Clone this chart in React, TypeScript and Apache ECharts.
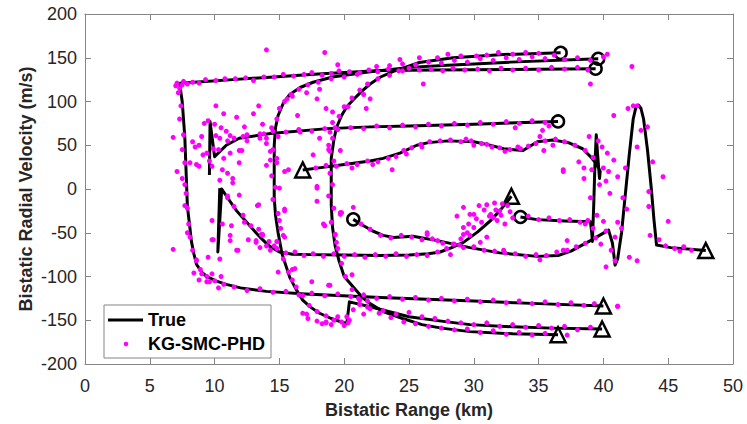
import React, { useEffect, useRef } from "react";
import * as echarts from "echarts";

// Axis ticks
const xTicks = { min: 0, max: 50, interval: 5 };
const yTicks = { min: -200, max: 200, interval: 50 };

// True target trajectories: [bistatic range km, bistatic radial velocity m/s]
const track1: number[][] = [
  [39.4, 137.5], [32.8, 136.5], [27, 136], [22.8, 135.3], [18, 131.5], [14, 127.5], [11.4, 125], [9, 122.5], [7.3, 121],
  [7.5, 100], [7.7, 60], [7.8, 20], [7.9, -20], [8.1, -45], [8.2, -59], [8.4, -74], [8.6, -86], [9.0, -95], [9.4, -100],
  [10.1, -105], [10.9, -109], [12.0, -113], [14.0, -117], [17, -120], [22.8, -124], [30, -128], [35, -131], [40.0, -133.7],
];
const trackOuter: number[][] = [
  [39.6, 148.8], [32.8, 145], [28, 141.5], [25, 139], [21.7, 133.5], [19.1, 128], [17.6, 122], [16.6, 116], [15.8, 108],
  [15.3, 98], [14.9, 84], [14.7, 70], [14.6, 50], [14.6, 20], [14.6, -10], [14.7, -30], [14.9, -50], [15.2, -74],
  [15.8, -101], [16.3, -115], [16.8, -127], [17.4, -135], [18.1, -142], [19.0, -148], [20.2, -154], [20.4, -129],
  [22, -134.5], [25, -146], [27.5, -151], [29.7, -155], [33, -157.5], [36, -159], [39.9, -160],
];
const trackInner: number[][] = [
  [36.7, 155.6], [32.3, 153.7], [28.4, 150], [25.8, 144.6], [23.8, 134.5], [22.8, 128], [22, 120], [21.3, 111],
  [20.7, 102], [20.2, 94], [19.8, 84], [19.4, 70], [19.2, 56], [19.0, 35], [19.0, 12], [19.0, -18], [19.1, -44],
  [19.3, -65], [19.6, -82], [20.0, -100], [20.7, -112], [21.4, -124], [22.0, -131], [23, -140], [24.5, -148],
  [26, -155], [27.5, -159], [29.7, -163], [33, -165.5], [36.5, -166.5],
];
const trackC: number[][] = [
  [36.5, 77.2], [30, 74], [25, 72], [22, 71], [18.7, 69], [14.3, 63.5], [11.9, 58], [10.9, 50], [10.0, 37],
  [9.65, 77], [9.6, 16],
];
const trackD: number[][] = [
  [10.4, 1], [10.25, -72], [10.55, 0], [11.0, -10], [11.7, -25], [12.6, -40], [13.5, -55], [14.2, -65], [15.0, -72],
  [16, -74.5], [17.4, -75], [20, -75.5], [22.8, -76], [25, -75.5], [26.5, -74], [27.4, -72], [28.3, -67], [29.2, -61],
  [30.3, -49], [31.3, -36], [32.0, -25], [32.6, -14], [32.9, -8.3],
];
const trackE: number[][] = [
  [20.7, -34.7], [21.5, -42], [22.2, -48], [23.0, -53], [23.8, -55.5], [25.3, -54], [27.2, -59], [29.7, -67],
  [32, -73], [34.9, -77], [36.5, -76], [37.5, -71], [39, -59], [40.4, -47], [40.7, -62], [40.9, -87], [41.1, -80],
  [41.4, -50], [41.7, -5], [42.0, 40], [42.3, 80], [42.5, 93], [42.7, 96], [42.9, 92], [43.1, 80], [43.4, 45],
  [43.7, 0], [43.9, -35], [44.1, -64], [45.2, -67], [47.9, -70.4],
];
const trackF: number[][] = [
  [33.6, -32], [34.9, -35], [37, -36.5], [39.0, -37.5], [39.1, -50], [39.15, -60], [39.25, -20], [39.35, 30],
  [39.45, 62], [39.55, 40], [39.7, 12], [39.75, 20], [39.5, 28], [39.0, 37], [38.4, 46], [37.3, 53], [36.1, 56],
  [34.9, 54], [33.8, 44], [32.3, 46], [31, 51], [30, 54], [28, 55], [26.5, 53], [25.6, 50], [24.3, 41], [23, 35],
  [22, 32], [20, 28], [18.5, 25], [16.8, 21.8],
];

// Track start and end markers
const startPoints: number[][] = [
  [36.7, 155.6], [39.6, 148.8], [39.4, 137.5], [36.5, 77.2], [20.7, -34.7], [33.6, -32],
];
const endPoints: number[][] = [
  [16.8, 21.8], [32.9, -8.3], [47.9, -70.4], [40.0, -133.7], [39.9, -160], [36.5, -166.5],
];

// KG-SMC-PHD state estimates
const estTop: number[][] = [
  [7.0, 118], [7.1, 121], [7.3, 115], [7.5, 119], [7.6, 123], [7.9, 120], [8.3, 122], [8.8, 121], [9.3, 125],
  [10.1, 124], [10.8, 126], [11.6, 126], [12.4, 127], [13.0, 124], [13.8, 128], [14.6, 128], [15.3, 131], [16.1, 129],
  [16.9, 131], [17.5, 133], [18.3, 130], [19.0, 132], [19.6, 135], [20.4, 134], [21.2, 133], [21.9, 136], [22.6, 134],
  [23.4, 137], [24.2, 135], [25.0, 138], [25.8, 136], [26.7, 137], [27.6, 135], [28.4, 138], [29.3, 136], [30.3, 137],
  [31.2, 135], [32.1, 138], [33.0, 136], [34.0, 138], [35.0, 136], [36.0, 139], [37.0, 137], [38.0, 139], [38.8, 136],
];
const estUpper: number[][] = [
  [22.5, 140], [23.5, 141], [24.5, 143], [25.5, 142], [26.5, 145], [27.5, 144], [28.5, 147], [29.5, 145], [30.5, 149],
  [31.5, 147], [32.5, 150], [33.5, 148], [34.5, 151], [35.5, 149], [36.2, 153], [37.0, 148], [38.0, 150], [39.0, 147],
  [40.0, 151], [27.2, 150], [29.0, 152], [31.0, 153], [33.0, 154], [35.0, 155], [24.3, 148], [25.8, 150],
];
const estCurves: number[][] = [
  [21.0, 131], [20.0, 128], [19.0, 126], [18.0, 122], [17.2, 119], [16.5, 114], [15.9, 108], [15.4, 100], [15.0, 92],
  [14.8, 80], [14.4, 70], [14.9, 60], [14.5, 45], [14.8, 30], [14.4, 15], [14.7, 2], [14.5, -12], [14.9, -28],
  [15.1, -45], [14.8, -60], [15.3, -80], [15.7, -95], [16.3, -112], [16.8, -122], [17.3, -133], [17.9, -140],
  [18.6, -145], [19.2, -150], [19.8, -152], [20.4, -150],
  [24.5, 135], [23.5, 130], [22.6, 126], [21.8, 120], [21.2, 113], [20.6, 104], [20.0, 94], [19.6, 83], [19.3, 70],
  [19.1, 58], [18.8, 45], [19.2, 32], [18.9, 18], [19.1, 5], [18.8, -8], [19.2, -22], [19.0, -38], [19.3, -52],
  [19.5, -68], [19.8, -85], [20.1, -100], [20.6, -115], [21.1, -125], [21.8, -135], [22.7, -142], [23.6, -147], [24.6, -152],
];
const estLower: number[][] = [
  [11.5, -112], [12.5, -116], [13.5, -114], [14.5, -118], [15.5, -117], [16.5, -121], [17.5, -119], [18.5, -122],
  [19.5, -120], [20.5, -123], [21.5, -121], [22.5, -125], [23.5, -123], [24.5, -126], [25.5, -124], [26.5, -127],
  [27.5, -125], [28.5, -128], [29.5, -126], [30.5, -129], [31.5, -127], [32.5, -130], [33.5, -128], [34.5, -131],
  [35.5, -129], [36.5, -132], [37.5, -130], [38.5, -133], [39.3, -131], [41.1, -134],
  [21.2, -132], [22.0, -137], [23.0, -139], [24.0, -143], [25.0, -141], [26.0, -146], [27.0, -148], [28.0, -151],
  [29.0, -153], [30.0, -155], [31.0, -153], [32.0, -157], [33.0, -155], [34.0, -158], [35.0, -156], [36.0, -159],
  [37.0, -157], [38.0, -161], [39.0, -158],
  [25.5, -154], [26.5, -157], [27.5, -159], [28.5, -161], [29.5, -160], [30.5, -164], [31.5, -162], [32.5, -166],
  [33.5, -164], [34.5, -167], [35.5, -165], [37.2, -167], [20.0, -156], [19.0, -155], [21.5, -143], [21.8, -128],
];
const estLeft: number[][] = [
  [7.2, 110], [7.4, 95], [7.3, 80], [7.6, 62], [7.5, 45], [7.7, 30], [7.5, 12], [7.8, -5], [7.9, -22], [8.0, -40],
  [8.1, -55], [8.3, -70], [8.6, -82], [8.9, -92], [9.4, -100], [10.0, -105], [10.7, -109], [8.4, -96], [9.6, -106],
  [10.3, -113],
];
const estMid: number[][] = [
  [12.5, 62], [13.5, 63], [14.5, 66], [15.5, 65], [16.5, 68], [17.5, 66], [18.5, 69], [19.5, 68], [20.5, 70],
  [21.5, 69], [22.5, 72], [23.5, 70], [24.5, 73], [25.5, 71], [26.5, 74], [27.5, 72], [28.5, 75], [29.5, 73],
  [30.5, 76], [31.5, 74], [32.5, 77], [33.5, 75], [34.5, 78], [35.5, 76], [11.0, 55], [10.3, 45], [33.2, 70], [35.8, 72],
  [9.2, 75], [9.5, 78], [10.0, 74], [10.5, 70], [10.9, 66], [11.5, 58], [12.2, 60], [9.0, 60], [8.5, 48], [9.8, 26],
  [10.6, 22], [11.0, 18], [11.9, 30], [12.5, 55], [12.1, 44],
];
const estWave: number[][] = [
  [17.8, 24], [18.6, 27], [19.4, 26], [20.2, 29], [21.0, 28], [21.8, 32], [22.6, 31], [23.4, 35], [24.0, 37],
  [24.6, 44], [25.2, 47], [25.9, 51], [26.6, 54], [27.4, 55], [28.2, 56], [29.0, 54], [29.8, 55], [30.6, 52],
  [31.4, 48], [32.0, 47], [32.8, 45], [33.6, 46], [34.2, 49], [34.8, 52], [35.5, 55], [36.3, 57], [37.0, 54],
  [37.8, 50], [38.6, 44], [39.2, 36], [30.0, 50], [31.0, 51], [32.4, 43], [33.4, 48], [29.4, 57], [26.0, 48],
  [24.8, 40], [20.6, 24], [22.2, 28],
  [34.2, -31], [35.0, -35], [35.8, -33], [36.6, -36], [37.4, -35], [38.2, -38], [38.8, -36], [39.5, -30], [39.2, -45],
];
const estLow: number[][] = [
  [12.2, -30], [12.8, -42], [13.6, -52], [14.2, -60], [14.8, -68], [15.5, -73], [16.2, -72], [16.9, -76], [17.6, -74],
  [18.4, -77], [19.2, -74], [20.0, -77], [20.8, -75], [21.6, -78], [22.4, -75], [23.2, -77], [24.0, -74], [24.8, -77],
  [25.6, -75], [26.4, -76], [27.2, -72], [27.9, -68], [28.5, -63], [29.0, -57], [29.5, -50], [30.0, -44], [30.6, -38],
  [31.2, -31], [31.7, -24], [32.2, -17], [11.0, -10], [11.5, -20],
  [21.3, -40], [22.0, -46], [22.8, -53], [23.6, -56], [24.4, -53], [25.2, -55], [26.0, -58], [26.8, -57], [27.6, -62],
  [28.4, -63], [29.2, -67], [30.0, -66], [30.8, -70], [31.6, -71], [32.4, -73], [33.2, -74], [34.0, -77], [34.8, -75],
  [35.6, -76], [36.4, -72], [37.2, -70], [37.9, -66], [38.6, -62], [39.4, -56], [40.2, -48], [44.8, -65], [45.5, -68],
  [46.2, -66], [46.8, -70], [45.9, -71],
];
const estRight: number[][] = [
  [39.6, 55], [38.9, 60], [39.9, 48], [40.3, 41], [40.8, 33], [40.0, 24], [40.4, 20], [40.2, 9], [41.1, 14], [38.5, 12],
  [38.1, 31], [38.5, 24], [39.1, 22], [39.7, 5], [40.5, -5], [39.0, -10], [38.6, -40], [40.6, -70], [40.9, -82],
  [42.0, -78], [41.4, -45], [39.8, -63],
  [41.9, 92], [42.3, 95], [42.6, 95], [42.9, 67], [43.4, 71], [42.6, 48], [43.8, 31], [44.6, 14], [41.7, 24],
  [41.5, -10], [43.5, -3], [43.5, -20], [41.8, -23], [42.2, 140], [40.8, 84], [42.6, -82], [45, -37], [43.6, -53], [44.3, -58],
];
const estClutter: number[][] = [
  [14.0, 159], [18.5, 156], [19.5, 142], [6.8, 59], [7.1, 20], [7.7, 5], [7.7, -19], [10.1, 95], [10.7, 86], [11.7, 82],
  [13.4, 95], [13.0, 86], [12.3, 71], [13.7, 74], [11.2, 61], [8.3, 54], [8.8, 50], [9.1, 39], [8.6, 28], [8.1, 30],
  [8.8, 26], [9.6, 32], [9.4, 41], [9.9, 46], [10.1, 61], [10.4, 58], [10.7, 35], [11.2, 41], [11.9, 44], [10.4, 10],
  [11.4, 12], [11.4, 7], [11.9, -7], [13.4, -18], [14.0, 27], [14.3, 33], [14.8, 35], [15.4, 20], [15.7, 22], [14.3, 43],
  [14.0, 52], [14.0, 58], [13.5, 58], [13.8, 63], [15.0, 1], [15.4, -23], [15.6, 103], [16.0, 106], [16.4, 84],
  [16.6, 65], [17.1, 110], [18.1, 114], [17.9, 103], [18.6, 92], [19.1, 88], [19.1, 76], [18.9, 65], [18.1, 58],
  [17.6, 39], [18.8, 50], [18.9, 43], [19.7, 44], [17.9, 3], [17.9, -14], [20.7, -21], [19.7, -27], [20.3, 94],
  [21.5, 108], [22.0, 103], [21.7, 92],
  [26.1, 120], [28.0, 154], [31.9, 156], [30.2, 152], [34.0, 156], [40.3, 154], [39.0, 120], [35.3, 67], [35.1, 60],
  [36.9, 20], [36.1, 50], [35.4, 44], [23.7, 22],
  [41.1, -134], [40.2, -89], [40.9, -55], [37.2, -59], [40, -37], [41.1, -38], [31, -55], [30, -29], [29.6, -40],
  [29.2, -52], [26.4, -52], [27.2, -59], [28.2, -75], [30.5, -61], [32.3, -70],
  [29.2, -21], [29.7, -29], [30.4, -19], [31, -18], [31.3, -29], [31.8, -36], [32, -25], [32.4, -40], [32.6, -19],
  [33, -33], [31.6, -16], [29.2, -44], [29.7, -53], [28.9, -64], [35.1, -81], [36.9, -70], [26.4, -50], [36.9, 22],
  [30.8, -24], [31.5, -33], [32.1, -30], [30.2, -34], [28.7, -31], [32.8, -26],
  [6.8, -69], [8.6, -81], [9.5, -78], [9.0, -97], [9.8, -97], [10.5, -100], [9.8, -36], [9.9, -58], [10.6, -40],
  [11.0, -8], [11.3, -42], [11.2, -53], [11.8, -70], [12.6, -58], [13.3, -19], [13.2, -61], [13.5, -67], [13.7, -53],
  [14.3, -70], [14.6, -65], [14.9, -95], [15.4, -25], [15.3, -53], [16.0, -92], [16.0, -104], [17.5, -106],
  [18.9, -110], [17.9, 1], [18.5, -42], [19.4, -61], [19.7, -29], [20.6, -98], [21.2, -127], [16.8, -142],
  [17.2, -148], [18.3, -154], [18.6, -152], [20.2, -146], [20.7, -138],
  [7.9, -50], [8.8, -104], [9.4, -106], [9.8, -58], [10.4, -80], [11.2, -59], [11.7, -70], [12.3, -38], [13.4, -46],
  [13.2, -59], [13.7, -52], [14, -65], [16.2, -91], [17.1, -143], [17.9, -151], [18.6, -153], [18.8, -110],
  [19.5, -146], [20.3, -153], [19.8, -27], [18.4, -40], [19.3, -52], [15, -36], [15.4, -55],
];

const TEXT = "#262626";
const AXIS = "#858585";
const FONT = "'Liberation Sans', Arial, Helvetica, sans-serif";

const trueTracks = [track1, trackOuter, trackInner, trackC, trackD, trackE, trackF];
const estimates = [
  ...estTop, ...estUpper, ...estCurves, ...estLower, ...estLeft, ...estMid, ...estWave, ...estLow, ...estRight, ...estClutter,
];

export default function App() {
  const ref = useRef<HTMLDivElement>(null);

  useEffect(() => {
    if (!ref.current) return;
    const chart = echarts.init(ref.current, undefined, { renderer: "svg" });

    const baseX = {
      type: "value" as const,
      min: xTicks.min,
      max: xTicks.max,
      interval: xTicks.interval,
      axisLine: { show: true, onZero: false, lineStyle: { color: AXIS, width: 1 } },
      axisTick: { show: true, inside: true, length: 6, lineStyle: { color: AXIS } },
      splitLine: { show: false },
    };
    const baseY = {
      type: "value" as const,
      min: yTicks.min,
      max: yTicks.max,
      interval: yTicks.interval,
      axisLine: { show: true, onZero: false, lineStyle: { color: AXIS, width: 1 } },
      axisTick: { show: true, inside: true, length: 6, lineStyle: { color: AXIS } },
      splitLine: { show: false },
    };

    const lineSeries = trueTracks.map((t) => ({
      type: "line",
      data: t,
      showSymbol: false,
      symbol: "none",
      silent: true,
      z: 2,
      lineStyle: { color: "#000", width: 3, join: "round" },
    }));

    const openMarker = {
      color: "rgba(255,255,255,0)",
      borderColor: "#000",
      borderWidth: 2.5,
      opacity: 1,
    };

    chart.setOption({
      animation: false,
      backgroundColor: "#fff",
      grid: { left: 85, right: 14, top: 14, bottom: 56 },
      xAxis: [
        {
          ...baseX,
          position: "bottom",
          name: "Bistatic Range (km)",
          nameLocation: "middle",
          nameGap: 37,
          nameMoveOverlap: false,
          nameTextStyle: { color: TEXT, fontSize: 18, fontWeight: "bold", fontFamily: FONT },
          axisLabel: { color: TEXT, fontSize: 18, fontFamily: FONT, margin: 13 },
        },
        { ...baseX, position: "top", axisLabel: { show: false } },
      ],
      yAxis: [
        {
          ...baseY,
          position: "left",
          name: "Bistatic Radial Velocity (m/s)",
          nameLocation: "middle",
          nameGap: 50,
          nameMoveOverlap: false,
          nameTextStyle: { color: TEXT, fontSize: 18, fontWeight: "bold", fontFamily: FONT },
          axisLabel: { color: TEXT, fontSize: 18, fontFamily: FONT, margin: 8 },
        },
        { ...baseY, position: "right", axisLabel: { show: false } },
      ],
      series: [
        ...lineSeries,
        {
          type: "scatter",
          data: startPoints,
          symbol: "circle",
          symbolSize: 12,
          silent: true,
          z: 3,
          itemStyle: openMarker,
        },
        {
          type: "scatter",
          data: endPoints,
          symbol: "triangle",
          symbolSize: 15,
          silent: true,
          z: 3,
          itemStyle: openMarker,
        },
        {
          type: "scatter",
          data: estimates,
          symbol: "circle",
          symbolSize: 5,
          silent: true,
          z: 4,
          itemStyle: { color: "#ff00ff", opacity: 1 },
        },
      ],
      graphic: [
        {
          type: "rect",
          shape: { x: 104, y: 305, width: 167, height: 53 },
          style: { fill: "#fff", stroke: AXIS, lineWidth: 1 },
          z: 10,
        },
        {
          type: "line",
          shape: { x1: 108, y1: 320, x2: 143, y2: 320 },
          style: { stroke: "#000", lineWidth: 3 },
          z: 11,
        },
        {
          type: "text",
          x: 148,
          y: 320,
          style: { text: "True", fill: "#000", font: `bold 18px ${FONT}`, verticalAlign: "middle" },
          z: 11,
        },
        {
          type: "circle",
          shape: { cx: 126, cy: 344, r: 2.3 },
          style: { fill: "#ff00ff" },
          z: 11,
        },
        {
          type: "text",
          x: 148,
          y: 344,
          style: { text: "KG-SMC-PHD", fill: "#000", font: `bold 18px ${FONT}`, verticalAlign: "middle" },
          z: 11,
        },
      ],
    });

    return () => chart.dispose();
  }, []);

  return (
    <div
      ref={ref}
      style={{ position: "fixed", left: 0, top: 0, width: 747, height: 424, background: "#fff" }}
    />
  );
}
